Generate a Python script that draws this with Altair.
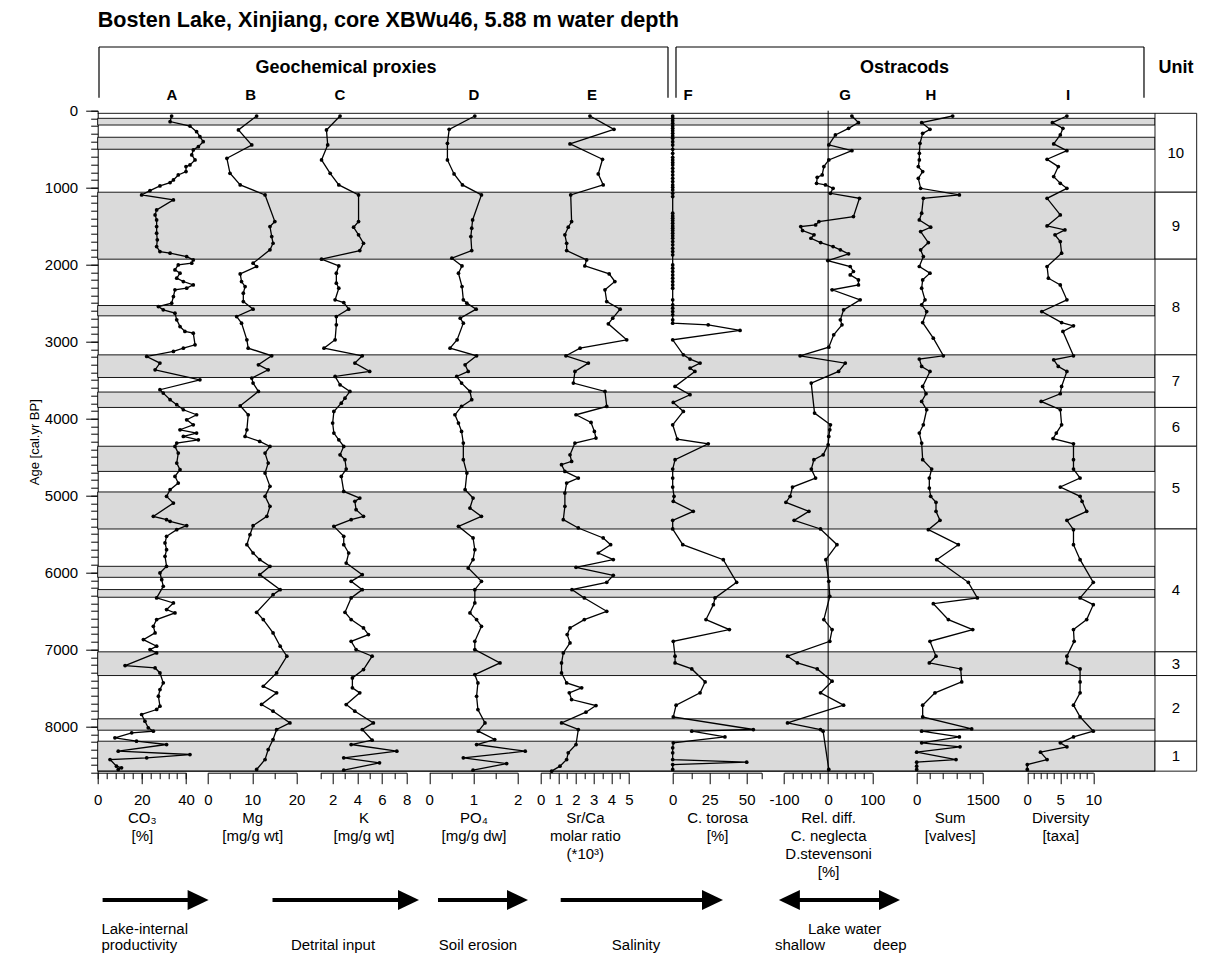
import altair as alt
import pandas as pd

FONT = "Liberation Sans"
PLOT_W = 1099      # plot area incl. unit column (px)
PLOT_H = 662
BAND_W = 1057.3    # width of the grey-band area (left of the unit column)

# ---------------- data ----------------
band_start = [99, 345, 1059, 2531, 3172, 3655, 4359, 4953, 5919, 6221, 7030, 7900, 8191]
band_end = [186, 501, 1929, 2665, 3466, 3855, 4686, 5434, 6062, 6321, 7338, 8048, 8580]

unit_names = ["10", "9", "8", "7", "6", "5", "4", "3", "2", "1"]
unit_top = [34, 1059, 1929, 3172, 3855, 4359, 5434, 7030, 7338, 8191]
unit_bot = [1059, 1929, 3172, 3855, 4359, 5434, 7030, 7338, 8191, 8580]
frame_ages = [34, 8580]

y_major = list(range(0, 8001, 1000))
y_minor = list(range(0, 8601, 100))

# A: CO3 [%]
CO3 = [(69,33.5),(142,32.8),(199,41.8),(272,44.8),(337,46.3),(402,47.8),(467,45.6),(510,43.3),(575,42.6),(640,44.1),(705,41.8),(726,40.0),(791,40.0),(835,36.5),(900,34.3),(934,32.8),(977,28.2),(1038,23.7),(1094,19.9),(1159,34.3),(1289,26.7),(1354,26.0),(1419,26.7),(1505,26.7),(1592,26.7),(1678,27.0),(1765,26.7),(1830,28.2),(1851,32.8),(1895,40.3),(1938,43.3),(1981,42.6),(2003,36.5),(2068,35.0),(2111,37.3),(2176,35.8),(2219,38.8),(2263,43.3),(2306,40.3),(2327,35.0),(2414,34.3),(2500,33.5),(2544,27.5),(2587,29.7),(2630,35.0),(2717,35.8),(2804,37.3),(2868,39.5),(2890,43.3),(3041,44.1),(3085,38.8),(3128,34.3),(3193,22.2),(3279,28.2),(3366,26.0),(3496,46.3),(3625,28.2),(3669,29.7),(3755,32.8),(3820,35.8),(3885,38.8),(3950,44.8),(4015,40.3),(4080,43.3),(4145,37.3),(4188,44.8),(4231,38.8),(4275,45.6),(4318,35.8),(4361,35.0),(4448,36.5),(4578,35.8),(4664,37.3),(4751,35.0),(4837,36.5),(4924,32.8),(5010,31.2),(5097,34.3),(5270,25.2),(5313,31.2),(5335,32.8),(5391,40.3),(5443,35.8),(5529,31.2),(5616,30.5),(5703,31.2),(5789,30.5),(5919,31.2),(6005,28.2),(6092,29.0),(6179,29.7),(6330,26.7),(6395,34.3),(6481,31.2),(6525,35.0),(6611,26.7),(6698,25.2),(6784,26.0),(6871,20.7),(6957,26.7),(7001,23.7),(7044,26.7),(7208,12.4),(7239,26.0),(7304,28.2),(7433,29.7),(7520,28.2),(7606,27.5),(7736,28.2),(7779,26.7),(7844,19.9),(7931,21.4),(8017,22.9),(8061,25.2),(8082,15.4),(8147,7.8),(8191,17.6),(8234,31.2),(8320,9.3),(8364,41.8),(8407,22.2),(8429,5.6),(8515,8.5),(8537,10.8),(8558,9.3)]

# B: Mg [mg/g wt]
MG = [(69,11.0),(250,6.9),(445,9.9),(618,4.3),(813,5.0),(964,7.3),(1094,12.9),(1440,15.1),(1505,14.0),(1635,14.4),(1722,14.7),(1808,14.0),(1981,10.2),(2024,11.0),(2120,7.3),(2219,7.6),(2284,8.4),(2371,8.0),(2479,8.0),(2578,10.2),(2674,6.5),(2760,7.6),(2976,8.8),(3085,9.1),(3184,14.4),(3301,11.4),(3366,13.6),(3474,9.9),(3539,10.2),(3647,11.4),(3833,7.3),(3950,9.1),(4145,8.8),(4231,8.4),(4296,11.7),(4361,14.0),(4448,12.9),(4578,13.6),(4707,12.9),(4880,14.0),(5010,12.9),(5140,14.0),(5270,13.3),(5391,10.2),(5508,9.5),(5638,8.8),(5746,10.2),(5832,11.7),(5919,14.0),(6027,11.7),(6222,16.3),(6287,14.7),(6516,11.0),(6611,12.5),(6784,14.7),(6957,16.3),(7087,17.8),(7304,15.5),(7477,12.5),(7563,15.5),(7714,12.1),(7801,14.7),(7953,18.5),(8039,15.5),(8169,14.7),(8299,13.6),(8429,12.9),(8558,11.0)]

# C: K [mg/g wt]
K = [(69,2.6),(250,1.5),(445,1.6),(640,1.1),(813,1.8),(964,2.5),(1094,4.1),(1440,4.1),(1514,3.7),(1613,4.1),(1722,4.5),(1817,4.2),(1929,1.1),(2016,2.5),(2111,2.3),(2241,2.3),(2306,2.5),(2457,2.2),(2492,2.9),(2578,3.3),(2674,2.3),(2782,2.3),(2976,2.2),(3085,1.3),(3184,4.4),(3279,3.8),(3387,5.0),(3452,2.2),(3561,2.6),(3647,3.4),(3734,3.0),(3799,2.7),(3907,2.1),(4058,2.0),(4188,2.1),(4275,2.5),(4361,2.9),(4470,2.6),(4534,3.0),(4656,3.1),(4751,2.7),(4946,2.9),(5032,4.2),(5075,3.8),(5183,3.9),(5270,4.5),(5313,3.5),(5400,2.1),(5530,2.9),(5638,2.9),(5746,3.3),(5876,3.1),(6027,4.4),(6114,3.5),(6222,4.4),(6330,3.5),(6516,3.0),(6611,3.5),(6720,4.5),(6806,4.9),(6893,3.5),(7001,3.9),(7087,5.2),(7260,4.5),(7369,3.6),(7498,3.6),(7563,4.2),(7715,3.1),(7801,3.8),(7953,5.3),(8039,4.4),(8178,5.2),(8234,3.5),(8321,7.2),(8407,2.9),(8472,5.8),(8567,2.9)]

# D: PO4 [mg/g dw]
PO4 = [(69,1.03),(242,0.45),(424,0.41),(640,0.41),(822,0.56),(964,0.75),(1094,1.18),(1419,0.98),(1527,0.96),(1635,0.94),(1817,0.96),(1916,0.51),(2016,0.74),(2111,0.66),(2284,0.74),(2457,0.77),(2500,0.85),(2578,1.06),(2695,0.70),(2760,0.77),(2976,0.63),(3085,0.47),(3184,1.07),(3301,0.81),(3387,0.88),(3452,0.62),(3539,0.73),(3647,0.92),(3755,0.96),(3842,0.73),(3950,0.58),(4058,0.66),(4166,0.73),(4318,0.77),(4534,0.77),(4708,0.85),(4924,0.81),(5032,0.99),(5162,0.92),(5270,1.18),(5400,0.66),(5551,0.99),(5703,1.03),(5832,0.99),(5941,0.88),(6114,1.18),(6222,1.03),(6395,1.03),(6525,0.92),(6611,1.07),(6698,1.18),(6893,1.03),(7001,1.03),(7174,1.60),(7325,1.03),(7434,1.10),(7607,1.07),(7780,1.10),(7953,1.26),(8061,1.11),(8169,1.48),(8234,1.07),(8321,2.17),(8407,0.77),(8481,1.75),(8567,0.99)]

# E: Sr/Ca molar ratio (*10^3)
SRCA = [(69,2.79),(242,4.15),(432,1.66),(631,3.50),(822,3.26),(964,3.54),(1094,1.70),(1440,1.75),(1514,1.56),(1613,1.37),(1722,1.47),(1817,1.47),(1938,2.60),(2016,2.50),(2120,3.88),(2219,4.20),(2327,3.64),(2479,3.74),(2578,4.50),(2695,4.08),(2769,3.83),(2976,4.87),(3085,2.23),(3184,1.43),(3279,2.70),(3387,1.94),(3539,1.85),(3647,3.64),(3842,3.74),(3950,2.00),(4050,2.85),(4166,3.04),(4253,3.13),(4318,1.94),(4470,1.66),(4556,1.75),(4599,1.18),(4686,1.37),(4772,2.13),(4837,1.47),(4967,1.37),(5140,1.37),(5313,1.28),(5421,2.13),(5551,3.54),(5638,3.96),(5746,3.26),(5832,4.11),(5932,2.00),(6036,4.11),(6127,3.74),(6222,1.77),(6330,2.47),(6503,3.74),(6611,2.47),(6720,1.66),(6806,1.50),(6914,1.66),(7044,1.28),(7174,1.18),(7304,1.18),(7434,1.47),(7498,2.32),(7563,1.62),(7650,1.75),(7728,3.13),(7814,2.56),(7953,1.18),(8039,2.13),(8234,2.00),(8342,1.56),(8429,1.47),(8515,1.09),(8580,0.62)]

# F: C. torosa [%]  (samples with 0 % in the upper part, then the rest)
TOROSA_ZERO_AGES = [69,99,129,164,199,229,259,294,328,359,402,445,501,553,605,640,674,705,748,791,835,878,921,964,995,1029,1073,1116,1332,1367,1397,1428,1462,1497,1527,1557,1592,1626,1657,1700,1743,1787,1830,1873,2003,2046,2089,2133,2176,2219,2263,2306,2457,2522,2566,2609,2652,2717,2760]
TOROSA_REST = [(2782,24.0),(2855,45.5),(2976,0.0),(3171,7.2),(3227,11.7),(3279,18.5),(3344,11.7),(3387,15.0),(3582,1.6),(3690,11.7),(3790,0.4),(3907,7.2),(4080,0.0),(4266,3.1),(4327,24.0),(4534,1.6),(4656,0.0),(4772,0.0),(4889,0.0),(5010,0.9),(5075,0.4),(5205,13.9),(5322,0.0),(5434,0.0),(5638,6.8),(5833,34.2),(6127,43.2),(6330,28.6),(6417,27.5),(6611,22.5),(6741,38.3),(6893,0.4),(7087,1.6),(7174,1.6),(7252,12.9),(7421,21.9),(7563,18.5),(7723,2.3),(7875,0.4),(8039,54.5),(8061,12.9),(8135,35.3),(8212,0.4),(8277,0.0),(8342,0.0),(8429,0.0),(8463,50.0),(8494,0.0),(8558,0.0)]
TOROSA = [(a, 0.0) for a in TOROSA_ZERO_AGES] + TOROSA_REST

# G: Rel. diff. C. neglecta / D. stevensoni [%]
RELDIFF = [(69,53.8),(155,68.7),(229,46.3),(315,16.4),(445,1.5),(519,53.8),(640,1.5),(726,-9.7),(835,-13.5),(865,-24.7),(943,-26.2),(964,-6.0),(1008,11.2),(1073,5.2),(1138,71.0),(1376,57.3),(1440,-20.9),(1484,-28.3),(1505,-62.0),(1557,-58.0),(1613,-32.0),(1657,-39.0),(1713,-17.0),(1765,11.2),(1808,27.7),(1860,46.3),(1947,-0.8),(2024,50.0),(2089,57.3),(2133,50.0),(2198,68.7),(2263,68.7),(2327,9.0),(2457,72.5),(2587,35.0),(2717,27.7),(2782,31.3),(2912,12.6),(3072,1.5),(3184,-63.5),(3279,38.8),(3387,23.7),(3539,-38.3),(3928,-30.8),(4080,5.2),(4145,3.7),(4231,1.5),(4340,0.0),(4470,-11.2),(4534,-32.3),(4656,-38.1),(4772,-28.5),(4889,-80.7),(5010,-86.0),(5088,-95.7),(5205,-43.5),(5322,-77.0),(5434,-17.3),(5638,20.0),(5833,-5.2),(6114,1.5),(6309,3.7),(6611,-9.7),(6741,9.0),(6893,3.7),(7087,-92.0),(7174,-69.5),(7252,-24.7),(7412,9.0),(7563,-17.3),(7723,35.0),(7953,-92.0),(8039,-17.3),(8061,-11.4),(8558,1.5)]

# H: Sum [valves]
SUM = [(69,818),(155,113),(242,302),(294,136),(424,75),(553,60),(640,60),(726,37),(791,136),(878,37),(1008,90),(1094,970),(1138,151),(1332,113),(1419,60),(1514,318),(1570,90),(1713,265),(1808,90),(1895,151),(2024,60),(2111,302),(2198,136),(2306,113),(2457,189),(2522,113),(2609,227),(2752,136),(2955,378),(3184,606),(3227,60),(3323,113),(3387,302),(3582,136),(3677,212),(3777,113),(3885,227),(4080,151),(4188,60),(4318,113),(4534,136),(4656,340),(4772,287),(4902,287),(5010,318),(5088,439),(5205,439),(5322,530),(5443,265),(5638,947),(5833,455),(6127,1174),(6330,1379),(6404,378),(6611,720),(6741,1273),(6893,302),(7087,439),(7174,287),(7252,1000),(7421,1023),(7563,416),(7723,136),(7875,136),(8031,1250),(8061,113),(8135,970),(8212,113),(8264,985),(8334,0),(8429,894),(8463,0),(8515,0),(8558,0)]

# I: Diversity [taxa]
DIV = [(69,6.0),(155,3.8),(229,5.4),(315,5.0),(432,4.0),(519,6.0),(631,3.0),(726,4.7),(856,4.0),(943,5.0),(1008,6.0),(1138,3.0),(1354,5.0),(1497,3.0),(1549,5.7),(1613,4.2),(1700,5.0),(1851,5.2),(2024,3.0),(2176,3.2),(2263,5.0),(2457,6.0),(2609,2.2),(2752,5.2),(2795,7.0),(2868,5.4),(3184,7.0),(3236,4.0),(3323,4.7),(3387,6.0),(3582,5.2),(3677,5.0),(3777,2.1),(3885,5.0),(4080,5.2),(4188,4.4),(4260,3.9),(4327,7.0),(4534,7.0),(4656,7.0),(4772,8.0),(4889,5.0),(5010,8.0),(5075,8.3),(5205,9.0),(5322,6.0),(5443,7.0),(5638,7.0),(5833,8.0),(6127,10.0),(6330,8.0),(6417,10.0),(6611,9.0),(6741,7.0),(6893,7.1),(7087,6.0),(7174,6.0),(7252,8.0),(7421,8.0),(7563,8.0),(7723,7.0),(7875,8.0),(8061,10.0),(8135,7.0),(8212,5.0),(8264,6.0),(8334,2.0),(8429,3.0),(8494,0.0),(8558,0.0)]

# ---------------- helpers ----------------
y_scale = alt.Scale(domain=[0, 8600], reverse=True, nice=False, zero=False)
dummy = alt.Data(values=[{"d": 0}])
LABEL_EXPR = "replace(format(datum.value, '~g'), '\u2212', '-')"


def panel(pts, domain, rng, major, minor, title):
    df = pd.DataFrame(pts, columns=["age", "v"])
    sc = alt.Scale(domain=domain, range=rng, nice=False, zero=False)
    ax = alt.Axis(orient="bottom", values=[float(v) for v in major], tickSize=11,
                  labelExpr=LABEL_EXPR, labelFlush=False, labelOverlap=False,
                  labelPadding=9, title=title, titlePadding=3, titleLineHeight=18,
                  grid=False)
    line = alt.Chart(df).mark_line(color="black", strokeWidth=1.3).encode(
        x=alt.X("v:Q", scale=sc, axis=ax),
        y=alt.Y("age:Q", scale=y_scale, axis=None),
        order=alt.Order("age:Q"),
    )
    pts_layer = alt.Chart(df).mark_circle(color="black", size=14, opacity=1).encode(
        x=alt.X("v:Q", scale=sc, axis=alt.Axis(orient="bottom", values=[float(v) for v in minor],
                                               tickSize=6, labels=False, domain=False,
                                               title=None, grid=False)),
        y=alt.Y("age:Q", scale=y_scale, axis=None),
    )
    return [line, pts_layer]


def txt(s, x, y, size=15, weight="normal", align="center"):
    return alt.Chart(dummy).mark_text(
        text=s, font=FONT, fontSize=size, fontWeight=weight, align=align,
        baseline="middle", color="black"
    ).encode(x=alt.value(x), y=alt.value(y))


def seg(x1, y1, x2, y2, w=1.2):
    return alt.Chart(dummy).mark_rule(color="black", strokeWidth=w).encode(
        x=alt.value(x1), y=alt.value(y1), x2=alt.value(x2), y2=alt.value(y2))


RIGHT_HEAD = "M -1 -0.95 L 1 0 L -1 0.95 Z"
LEFT_HEAD = "M 1 -0.95 L -1 0 L 1 0.95 Z"


def head(x, y, shape):
    return alt.Chart(dummy).mark_point(shape=shape, filled=True, size=441, color="black",
                                       opacity=1, strokeWidth=0).encode(
        x=alt.value(x), y=alt.value(y))


# ---------------- layers ----------------
bands_df = pd.DataFrame({"start": band_start, "end": band_end})
bands = alt.Chart(bands_df).mark_rect(fill="#dadada", stroke="black", strokeWidth=0.9).encode(
    y=alt.Y("start:Q", scale=y_scale,
            axis=alt.Axis(orient="left", values=y_major, tickSize=12, format="d",
                          labelPadding=8, labelFlush=False, labelOverlap=False,
                          title="Age [cal.yr BP]", titleFontSize=13, titlePadding=3, grid=False)),
    y2="end:Q",
    x=alt.value(0), x2=alt.value(BAND_W),
)

units_df = pd.DataFrame({"unit": unit_names, "top": unit_top, "bot": unit_bot})
unit_rects = alt.Chart(units_df).mark_rect(fill="white", stroke="black", strokeWidth=0.9).encode(
    y=alt.Y("top:Q", scale=y_scale, axis=None), y2="bot:Q",
    x=alt.value(BAND_W), x2=alt.value(PLOT_W),
)
unit_labels = alt.Chart(units_df).transform_calculate(
    mid="(datum.top + datum.bot) / 2"
).mark_text(font=FONT, fontSize=15, color="black", baseline="middle").encode(
    y=alt.Y("mid:Q", scale=y_scale, axis=None),
    x=alt.value((BAND_W + PLOT_W) / 2),
    text="unit:N",
)

frame = alt.Chart(pd.DataFrame({"age": frame_ages})).mark_rule(color="black", strokeWidth=0.9).encode(
    y=alt.Y("age:Q", scale=y_scale,
            axis=alt.Axis(orient="left", values=y_minor, tickSize=7, labels=False,
                          domain=False, title=None, grid=False)),
    x=alt.value(0), x2=alt.value(BAND_W),
)

panels = []
panels += panel(CO3, [0, 40], [0, 88.3], [0, 20, 40], list(range(0, 41, 4)), ["CO₃", "[%]"])
panels += panel(MG, [0, 20], [110.1, 198.9], [0, 10, 20], [5, 15], ["Mg", "[mg/g wt]"])
panels += panel(K, [1, 8], [222.6, 309.0], [2, 4, 6, 8], [1, 3, 5, 7], ["K", "[mg/g wt]"])
panels += panel(PO4, [0, 2], [331.6, 420.0], [0, 1, 2], [0.5, 1.5], ["PO₄", "[mg/g dw]"])
panels += panel(SRCA, [0, 5], [443.0, 531.3], [0, 1, 2, 3, 4, 5],
                [0.5, 1.5, 2.5, 3.5, 4.5], ["Sr/Ca", "molar ratio", "(*10³)"])
panels += panel(TOROSA, [0, 60], [575.0, 663.8], [0, 25, 50], [12.5, 37.5, 60], ["C. torosa", "[%]"])
panels += panel(RELDIFF, [-100, 100], [686.3, 774.6], [-100, 0, 100],
                [-80, -60, -40, -20, 20, 40, 60, 80],
                ["Rel. diff.", "C. neglecta", "D.stevensoni", "[%]"])
panels += panel(SUM, [0, 1500], [819.0, 885.0], [0, 1500], [300, 600, 900, 1200], ["Sum", "[valves]"])
panels += panel(DIV, [0, 10], [929.6, 995.6], [0, 5, 10], [1, 2, 3, 4, 6, 7, 8, 9], ["Diversity", "[taxa]"])

g_zero = alt.Chart(pd.DataFrame({"z": [0]})).mark_rule(color="black", strokeWidth=1).encode(
    x=alt.X("z:Q", scale=alt.Scale(domain=[-100, 100], range=[686.3, 774.6], nice=False, zero=False),
            axis=None)
)

# header annotations (pixel offsets relative to the plot origin)
annot = [
    txt("Bosten Lake, Xinjiang, core XBWu46, 5.88 m water depth", 0, -90, size=21.6, weight="bold", align="left"),
    txt("Geochemical proxies", 248.3, -43, size=18, weight="bold"),
    txt("Ostracods", 806.8, -43, size=18, weight="bold"),
    txt("Unit", 1078.3, -43, size=18, weight="bold"),
    seg(1.3, -63.7, 570.3, -63.7), seg(1.3, -63.7, 1.3, -13), seg(570.3, -63.7, 570.3, -13),
    seg(578.3, -63.7, 1046.3, -63.7), seg(578.3, -63.7, 578.3, -13), seg(1046.3, -63.7, 1046.3, -13),
]
for lab, xx in zip(list("ABCDEFGHI"), [74.3, 153, 242.3, 376.3, 494.3, 590.3, 747.3, 833.3, 970.3]):
    annot.append(txt(lab, xx, -16, size=15, weight="bold"))

# bottom arrows and their captions
AY = 789.3
annot += [
    seg(4.9, AY, 98, AY, w=4), head(100.4, AY, RIGHT_HEAD),
    seg(174.8, AY, 308, AY, w=4), head(310.8, AY, RIGHT_HEAD),
    seg(340.3, AY, 417, AY, w=4), head(419.8, AY, RIGHT_HEAD),
    seg(463.0, AY, 612, AY, w=4), head(614.8, AY, RIGHT_HEAD),
    seg(694, AY, 789, AY, w=4), head(691.7, AY, LEFT_HEAD), head(791.8, AY, RIGHT_HEAD),
    txt("Lake-internal", 3.7, 818.5, align="left"),
    txt("productivity", 3.7, 834, align="left"),
    txt("Detrital input", 235.3, 834),
    txt("Soil erosion", 380.3, 834),
    txt("Salinity", 538.3, 834),
    txt("Lake water", 747, 818.5),
    txt("shallow", 702.3, 834),
    txt("deep", 792.3, 834),
]

layers = [bands, unit_rects, unit_labels, frame] + panels + [g_zero] + annot

chart = alt.layer(*layers).properties(
    width=PLOT_W, height=PLOT_H,
    padding={"left": 89.7, "top": 102.7, "right": 2, "bottom": 181},
    autosize=alt.AutoSizeParams(type="none"),
).resolve_scale(x="independent").resolve_axis(x="independent", y="independent").configure_view(
    stroke=None
).configure_axis(
    labelFont=FONT, titleFont=FONT, labelFontSize=15, titleFontSize=15,
    titleFontWeight="normal", labelColor="black", titleColor="black",
    domainColor="black", tickColor="black", domainWidth=1, tickWidth=1,
)

chart.save("out.html", embed_options={"renderer": "svg", "actions": False})
